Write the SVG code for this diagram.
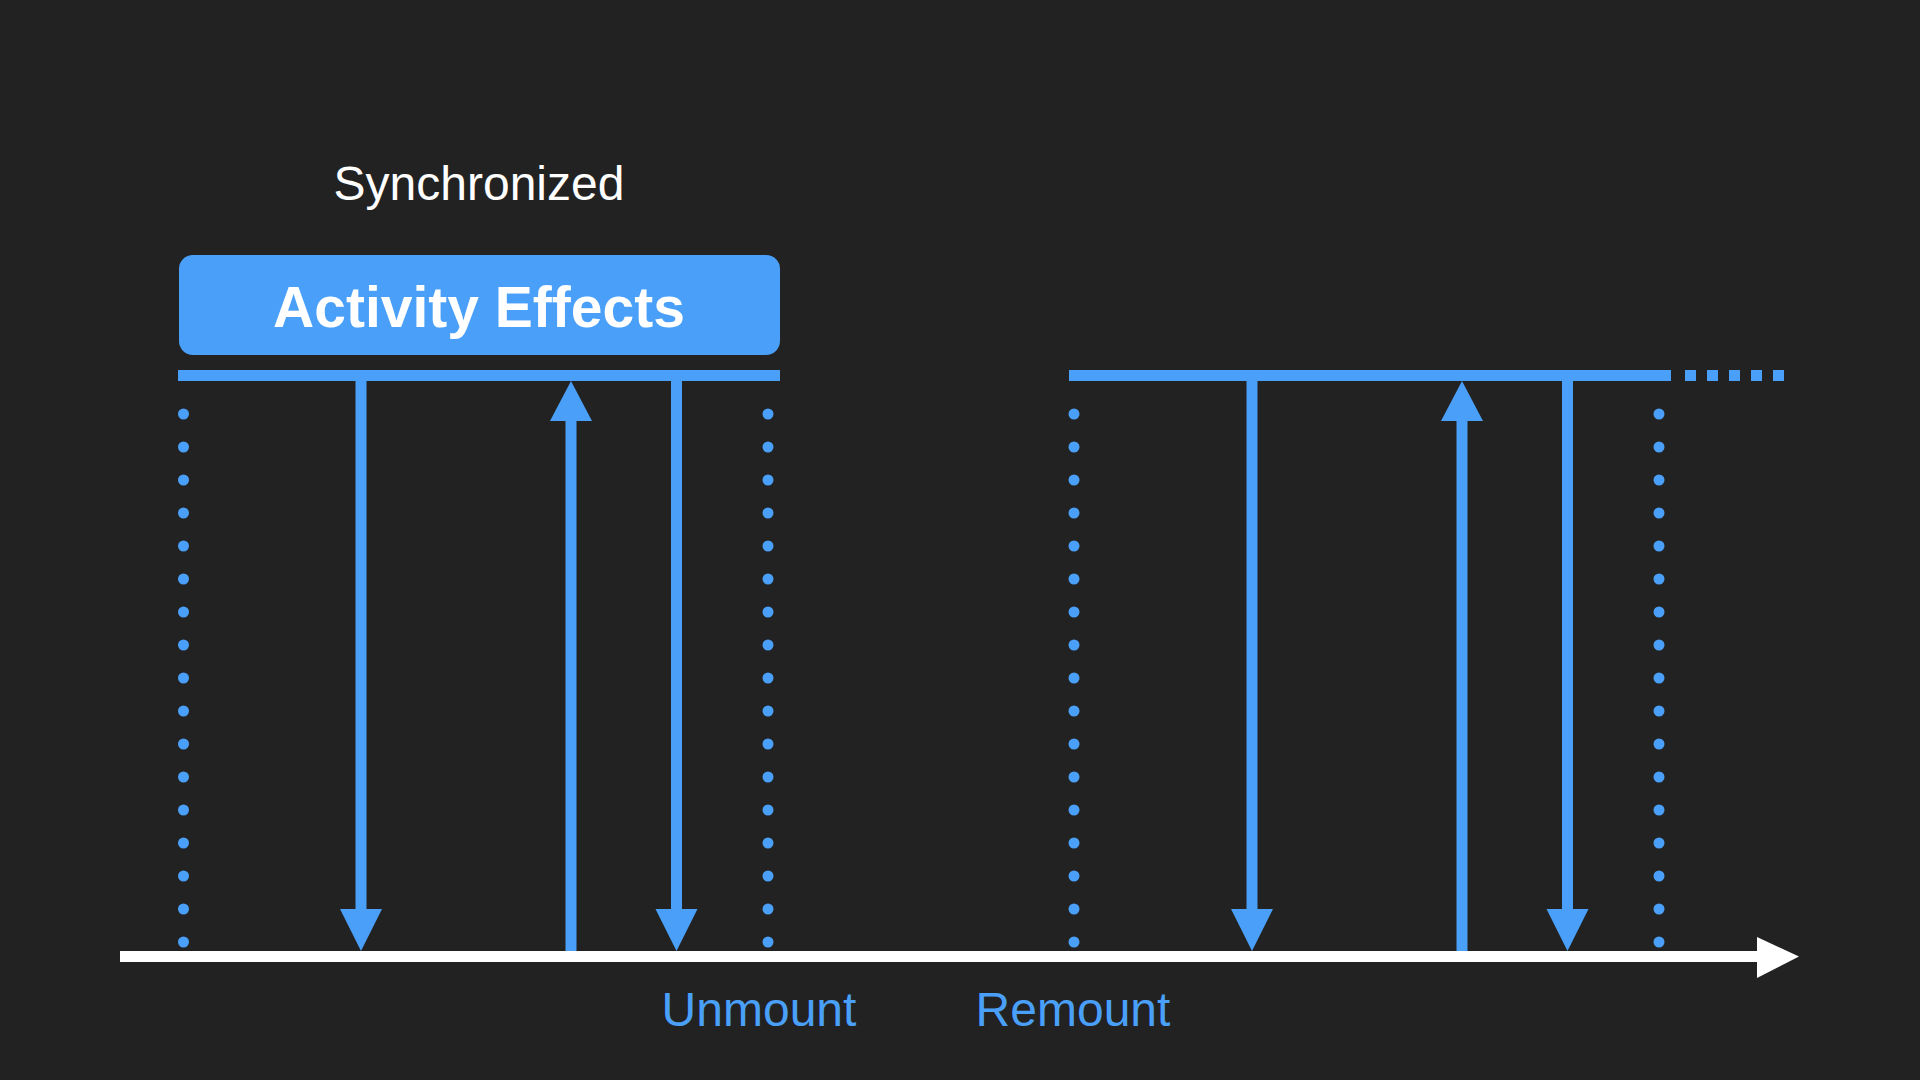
<svg xmlns="http://www.w3.org/2000/svg" width="1920" height="1080" viewBox="0 0 1920 1080">
<style>
.bg{fill:#222222}
.blue{fill:#4aa0f8}
.bar{stroke:#4aa0f8;stroke-width:11;fill:none}
.line{stroke:#4aa0f8;stroke-width:11;fill:none}
.dots{stroke:#4aa0f8;stroke-width:11;stroke-linecap:round;stroke-dasharray:0 33;fill:none}
.lbl{font-family:"Liberation Sans",Arial,sans-serif;font-size:48px;fill:#4aa0f8;text-anchor:middle}
.title{font-family:"Liberation Sans",Arial,sans-serif;font-size:48px;fill:#ffffff;text-anchor:middle}
.box-text{font-family:"Liberation Sans",Arial,sans-serif;font-size:57px;font-weight:bold;fill:#ffffff;text-anchor:middle}
</style>
<rect class="bg" x="0" y="0" width="1920" height="1080"/>
<g id="title-synchronized">
<text class="title" x="479" y="200">Synchronized</text>
</g>
<g id="activity-effects">
<rect class="blue" x="179" y="255" width="601" height="100" rx="14" ry="14"/>
<text class="box-text" x="479" y="327">Activity Effects</text>
</g>
<g id="label-unmount">
<text class="lbl" x="759" y="1026">Unmount</text>
</g>
<g id="label-remount">
<text class="lbl" x="1073" y="1026">Remount</text>
</g>
<g id="connectors">
<!-- bars -->
<line class="bar" x1="178" y1="375.5" x2="780" y2="375.5"/>
<line class="bar" x1="1069" y1="375.5" x2="1671" y2="375.5"/>
<line class="bar" x1="1685" y1="375.5" x2="1785" y2="375.5" stroke-dasharray="11 11"/>
<!-- dotted lines -->
<line class="dots" x1="183.5" y1="414" x2="183.5" y2="945"/>
<line class="dots" x1="768" y1="414" x2="768" y2="945"/>
<line class="dots" x1="1074" y1="414" x2="1074" y2="945"/>
<line class="dots" x1="1659" y1="414" x2="1659" y2="945"/>
<!-- left section arrows -->
<line class="line" x1="361" y1="380" x2="361" y2="910"/>
<polygon class="blue" points="340,909 382,909 361,951"/>
<line class="line" x1="571" y1="951" x2="571" y2="420"/>
<polygon class="blue" points="550,421 592,421 571,381"/>
<line class="line" x1="676.5" y1="380" x2="676.5" y2="910"/>
<polygon class="blue" points="655.5,909 697.5,909 676.5,951"/>
<!-- right section arrows -->
<line class="line" x1="1252" y1="380" x2="1252" y2="910"/>
<polygon class="blue" points="1231,909 1273,909 1252,951"/>
<line class="line" x1="1462" y1="951" x2="1462" y2="420"/>
<polygon class="blue" points="1441,421 1483,421 1462,381"/>
<line class="line" x1="1567.5" y1="380" x2="1567.5" y2="910"/>
<polygon class="blue" points="1546.5,909 1588.5,909 1567.5,951"/>
<!-- timeline -->
<line x1="120" y1="956.5" x2="1758" y2="956.5" stroke="#ffffff" stroke-width="11"/>
<polygon fill="#ffffff" points="1757,937 1799,956.5 1757,978"/>
</g>
</svg>
